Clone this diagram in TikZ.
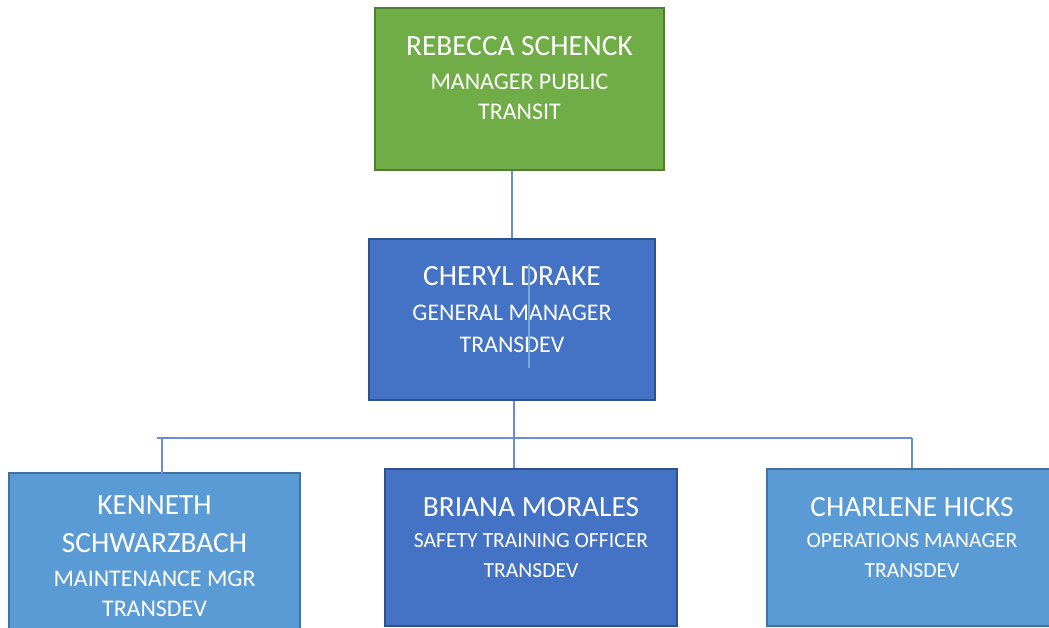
\documentclass[tikz,border=0pt]{standalone}
\usepackage{fontspec}
\setmainfont{Carlito}
\usetikzlibrary{positioning, calc}
\definecolor{chartgreen}{HTML}{70AD47}
\definecolor{chartgreenedge}{HTML}{507E32}
\definecolor{chartblue}{HTML}{4472C4}
\definecolor{chartblueedge}{HTML}{2F528F}
\definecolor{chartsky}{HTML}{5B9BD5}
\definecolor{chartskyedge}{HTML}{41719C}
\definecolor{linkblue}{RGB}{105,142,210}
\newcommand{\namefont}{\fontsize{16.7}{19.5}\selectfont}

\begin{document}
\begin{tikzpicture}[
    x=0.02cm, y=-0.02cm,
    box/.style={rectangle, line width=1.1pt},
    topbox/.style={box, fill=chartgreen, draw=chartgreenedge},
    darkbox/.style={box, fill=chartblue, draw=chartblueedge},
    lightbox/.style={box, fill=chartsky, draw=chartskyedge},
    caption/.style={anchor=north, align=center, text=white, inner sep=0pt, font=\fontsize{13.6}{17.2}\selectfont},
    smallcaption/.style={caption, font=\fontsize{12.3}{17.4}\selectfont},
    link/.style={draw=linkblue, line width=0.75pt}
]
    \useasboundingbox (0,0) rectangle (1049,627);
    \fill[white] (0,0) rectangle (1049,627);
    \clip (0,0) rectangle (1049,627);

    \node[topbox, minimum width=5.78cm, minimum height=3.24cm] (rs) at (519.5,89) {};
    \node[darkbox, minimum width=5.72cm, minimum height=3.22cm] (cd) at (512,319.5) {};
    \node[lightbox, minimum width=5.82cm, minimum height=3.2cm] (ks) at (154.5,553) {};
    \node[darkbox, minimum width=5.84cm, minimum height=3.14cm] (bm) at (531,547.5) {};
    \node[lightbox, minimum width=5.8cm, minimum height=3.14cm] (ch) at (912,547.5) {};

    \node[caption, yshift=-0.58cm] (rs-text) at (rs.north) {{\namefont REBECCA SCHENCK}\\[2pt] MANAGER PUBLIC\\ TRANSIT};
    \node[caption, yshift=-0.56cm] (cd-text) at (cd.north) {{\namefont CHERYL DRAKE}\\[2.5pt] GENERAL MANAGER\\[1pt] TRANSDEV};
    \node[caption, yshift=-0.46cm] (ks-text) at (ks.north) {{\namefont KENNETH}\\[4.8pt] {\namefont SCHWARZBACH}\\[2pt] MAINTENANCE MGR\\ TRANSDEV};
    \node[smallcaption, yshift=-0.58cm] (bm-text) at (bm.north) {{\namefont BRIANA MORALES}\\ SAFETY TRAINING OFFICER\\ TRANSDEV};
    \node[smallcaption, yshift=-0.58cm] (ch-text) at (ch.north) {{\namefont CHARLENE HICKS}\\ OPERATIONS MANAGER\\ TRANSDEV};

    \draw[draw=chartsky!85!white, line width=0.6pt] ($(cd.center)+(17,-56)$) -- ($(cd.center)+(17,48)$);

    \coordinate (busL) at (157,438);
    \coordinate (busR) at (912,438);
    \coordinate (dropL) at (162,438);
    \coordinate (dropM) at (514,438);

    \draw[link] (cd.north) -- (cd.north |- rs.south);
    \draw[link] (dropM |- cd.south) -- (dropM |- bm.north);
    \draw[link] (busL) -- (busR);
    \draw[link] (dropL) -- ($(dropL |- ks.north)+(0,5)$);
    \draw[link] (busR) -- (busR |- ch.north);
\end{tikzpicture}
\end{document}
